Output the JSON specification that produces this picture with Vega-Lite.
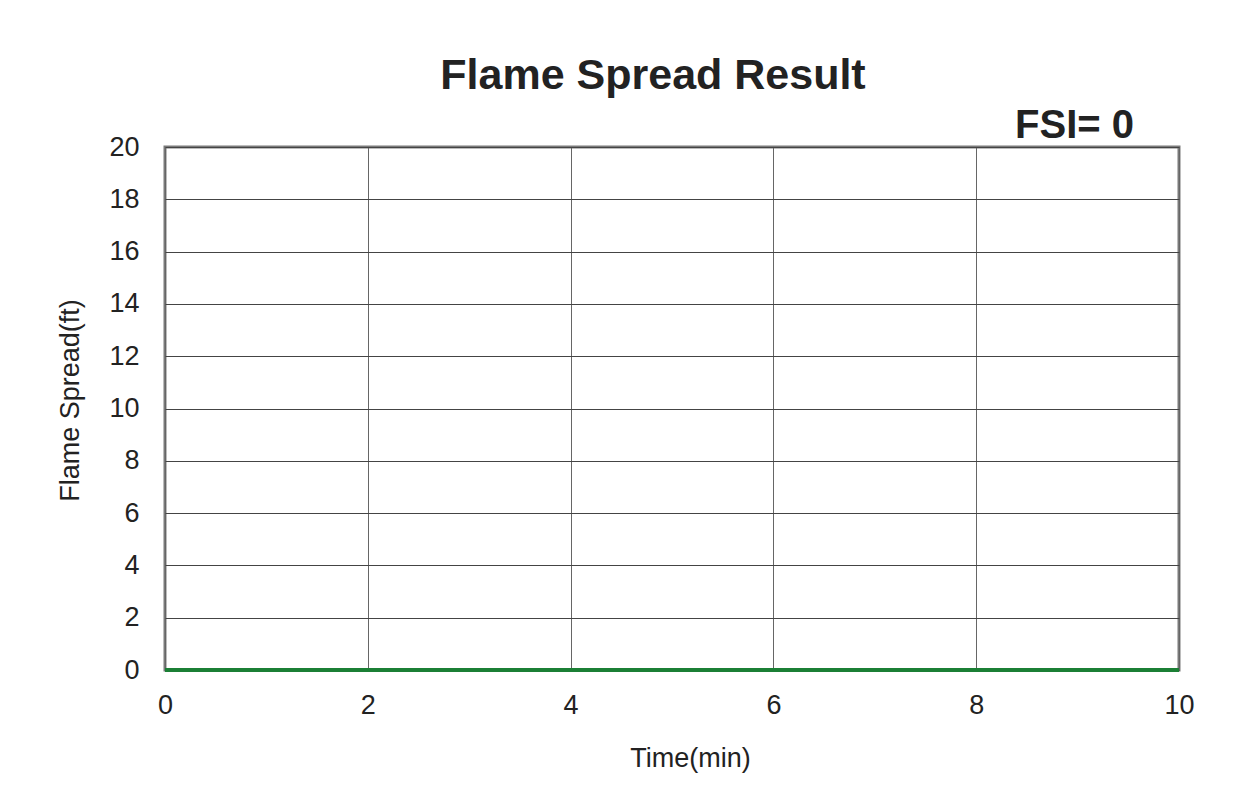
{
  "$schema": "https://vega.github.io/schema/vega-lite/v6.json",
  "width": 1014,
  "height": 523,
  "autosize": "none",
  "padding": {"left": 165, "top": 147, "right": 68, "bottom": 119},
  "background": "white",
  "title": {
    "text": "Flame Spread Result",
    "font": "Liberation Sans",
    "fontSize": 43,
    "fontWeight": "bold",
    "color": "#222222",
    "anchor": "middle",
    "dx": -19,
    "dy": 65,
    "baseline": "alphabetic",
    "offset": 39
  },
  "config": {
    "view": {"stroke": "#7a7a7a", "strokeWidth": 3},
    "axis": {
      "labelFont": "Liberation Sans",
      "titleFont": "Liberation Sans",
      "labelColor": "#222222",
      "titleColor": "#222222",
      "titleFontWeight": "normal",
      "ticks": false,
      "domain": false,
      "labelFlush": false
    }
  },
  "layer": [
    {
      "data": {"values": [{"time": 0, "spread": 0}, {"time": 10, "spread": 0}]},
      "mark": {"type": "line", "color": "#1b7f35", "strokeWidth": 4, "clip": false},
      "encoding": {
        "x": {
          "field": "time",
          "type": "quantitative",
          "scale": {"domain": [0, 10], "nice": false},
          "axis": {
            "values": [0, 2, 4, 6, 8, 10],
            "format": "d",
            "grid": true,
            "gridColor": "#666666",
            "gridWidth": 1,
            "labelFontSize": 27,
            "labelPadding": 22,
            "title": "Time(min)",
            "titleFontSize": 27,
            "titlePadding": 27,
            "titleX": 525
          }
        },
        "y": {
          "field": "spread",
          "type": "quantitative",
          "scale": {"domain": [0, 20], "nice": false},
          "axis": {
            "values": [0, 2, 4, 6, 8, 10, 12, 14, 16, 18, 20],
            "format": "d",
            "grid": true,
            "gridColor": "#444444",
            "gridWidth": 1,
            "labelFontSize": 27,
            "labelPadding": 26,
            "title": "Flame Spread(ft)",
            "titleFontSize": 27,
            "titlePadding": 24,
            "titleY": 253
          }
        }
      }
    },
    {
      "data": {"values": [{"label": "FSI= 0"}]},
      "mark": {
        "type": "text",
        "font": "Liberation Sans",
        "fontSize": 40,
        "fontWeight": "bold",
        "color": "#222222",
        "align": "center",
        "baseline": "alphabetic"
      },
      "encoding": {
        "x": {"datum": 8.97, "type": "quantitative", "scale": {"domain": [0, 10], "nice": false}},
        "y": {"datum": 20.35, "type": "quantitative", "scale": {"domain": [0, 20], "nice": false}},
        "text": {"field": "label", "type": "nominal"}
      }
    }
  ]
}
